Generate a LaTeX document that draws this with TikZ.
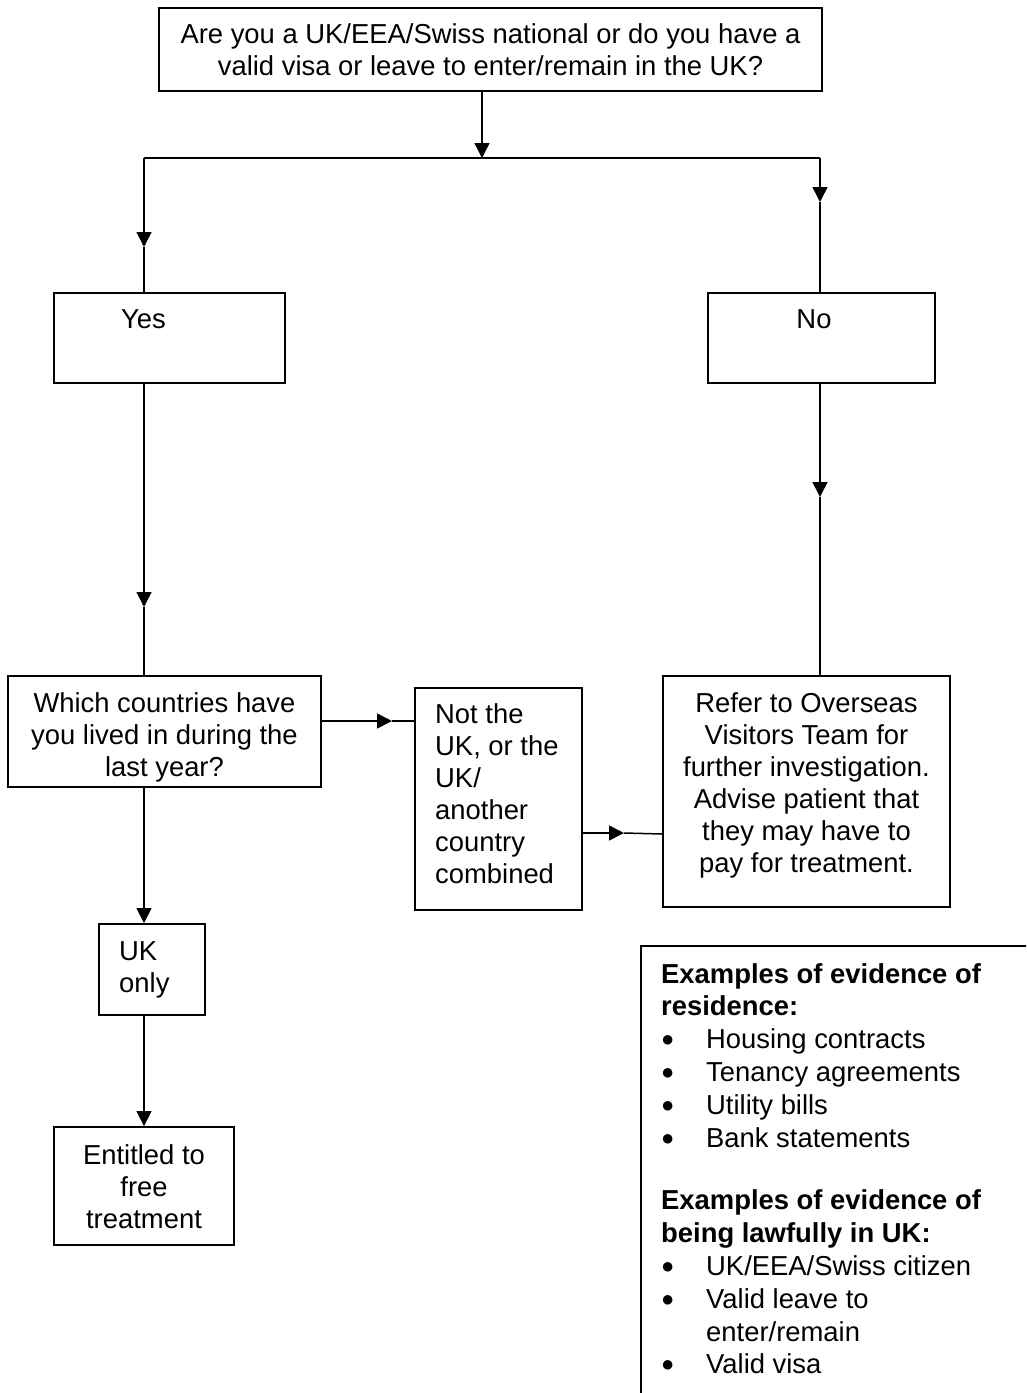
\documentclass[tikz,border=0pt]{standalone}
\usepackage{fontspec}
\setmainfont{Liberation Sans}
\usetikzlibrary{arrows.meta}
\newcommand\evbul{\makebox[45pt][l]{\raisebox{2pt}{\fontsize{22}{22}\selectfont ●}}}
\tikzset{
  flowbox/.style={draw=black, line width=1.8pt, inner sep=0pt},
  lbl/.style={inner sep=0pt, anchor=north, align=center, font=\fontsize{27.4}{32}\selectfont},
  lbll/.style={lbl, anchor=north west, align=left},
  link/.style={draw=black, line width=1.5pt},
  linkarr/.style={link, -{Triangle[length=15pt,width=15pt]}},
}
\begin{document}
\begin{tikzpicture}[x=1pt,y=-1pt]
\useasboundingbox (0,0) rectangle (1026,1393);
\clip (0,0) rectangle (1026,1393);
% boxes
\node[flowbox, minimum width=663pt, minimum height=83pt] (top) at (490.5,49.5) {};
\node[flowbox, minimum width=231pt, minimum height=90pt] (yes) at (169.5,338) {};
\node[flowbox, minimum width=227pt, minimum height=90pt] (no) at (821.5,338) {};
\node[flowbox, minimum width=313pt, minimum height=111pt] (which) at (164.5,731.5) {};
\node[flowbox, minimum width=167pt, minimum height=222pt] (notuk) at (498.5,799) {};
\node[flowbox, minimum width=287pt, minimum height=231pt] (refer) at (806.5,791.5) {};
\node[flowbox, minimum width=106pt, minimum height=91pt] (ukonly) at (152,969.5) {};
\node[flowbox, minimum width=180pt, minimum height=118pt] (entitled) at (144,1186) {};
\node[flowbox, minimum width=420pt, minimum height=480pt] (evid) at (851,1186) {};
% texts
\node[lbl] (toptxt) at (490.5,23.5) {Are you a UK/EEA/Swiss national or do you have a\\valid visa or leave to enter/remain in the UK?};
\node[lbl] (yestxt) at (143.5,309) {Yes};
\node[lbl] (notxt) at (814,309) {No};
\node[lbl] (whichtxt) at (164.5,692) {Which countries have\\you lived in during the\\last year?};
\node[lbll] (notuktxt) at (435,703) {Not the\\UK, or the\\UK/\\another\\country\\combined};
\node[lbl] (refertxt) at (806.5,692) {Refer to Overseas\\Visitors Team for\\further investigation.\\Advise patient that\\they may have to\\pay for treatment.};
\node[lbll] (ukonlytxt) at (119,941) {UK\\only};
\node[lbl] (entitledtxt) at (144,1144) {Entitled to\\free\\treatment};
\node[lbll, font=\fontsize{27.4}{32.8}\selectfont] (evidtxt) at (661,963) {%
\textbf{Examples of evidence of}\\
\textbf{residence:}\\
\evbul Housing contracts\\
\evbul Tenancy agreements\\
\evbul Utility bills\\
\evbul Bank statements\\[30pt]
\textbf{Examples of evidence of}\\
\textbf{being lawfully in UK:}\\
\evbul UK/EEA/Swiss citizen\\
\evbul Valid leave to\\
\hspace*{45pt}enter/remain\\
\evbul Valid visa};
% connector points
\coordinate (split) at (482,158);
\coordinate (sl) at (144,158);
\coordinate (sr) at (820,158);
\coordinate (t1) at (144,247);
\coordinate (t2) at (820,202);
\coordinate (t3) at (144,607);
\coordinate (t4) at (820,497);
\coordinate (t5) at (392,721);
\coordinate (t6) at (624,833);
% connectors
\draw[linkarr] (top.south -| split) -- (split);
\draw[link] (sl) -- (sr);
\draw[linkarr] (sl) -- (t1);
\draw[link] (t1) -- (yes.north -| t1);
\draw[linkarr] (sr) -- (t2);
\draw[link] (t2) -- (no.north -| t2);
\draw[linkarr] (yes.south -| t3) -- (t3);
\draw[link] (t3) -- (which.north -| t3);
\draw[linkarr] (no.south -| t4) -- (t4);
\draw[link] (t4) -- (refer.north -| t4);
\draw[linkarr] (which.east |- t5) -- (t5);
\draw[link] (t5) -- (notuk.west |- t5);
\draw[linkarr] (notuk.east |- t6) -- (t6);
\draw[link] (t6) -- ([yshift=-1pt]refer.west |- t6);
\draw[linkarr] (which.south -| t3) -- (ukonly.north -| t3);
\draw[linkarr] (ukonly.south -| t3) -- (entitled.north);
\end{tikzpicture}
\end{document}
